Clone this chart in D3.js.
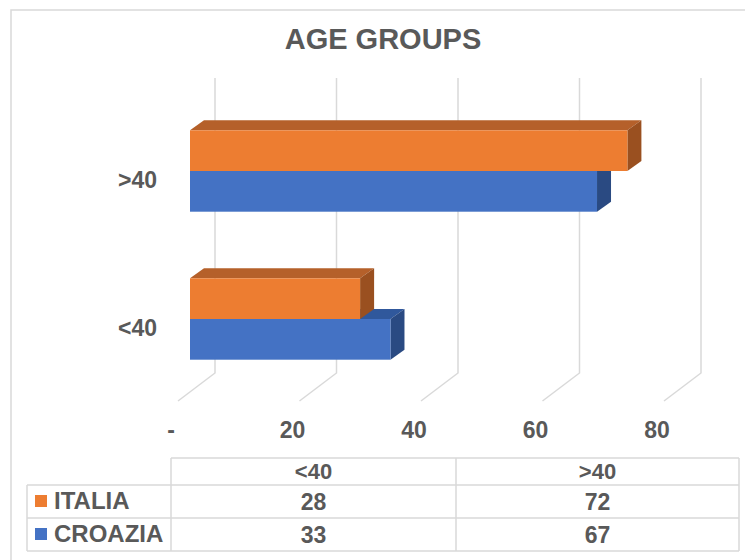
<!DOCTYPE html>
<html>
<head>
<meta charset="utf-8">
<script src="https://cdn.jsdelivr.net/npm/d3@7"></script>
<style>
  html, body { margin: 0; padding: 0; background: #fff; }
</style>
</head>
<body>
<div id="chart"></div>
<script>
const width = 745;
const height = 560;

const categories = ["<40", ">40"];
const seriesNames = ["ITALIA", "CROAZIA"];
const italia = [28, 72];
const croazia = [33, 67];
const tickValues = [0, 20, 40, 60, 80];

const colors = {
    ITALIA: { face: "#ed7d31", top: "#b5602a", side: "#9a5020" },
    CROAZIA: { face: "#4472c4", top: "#30589c", side: "#2a4a82" }
};
const textColor = "#595959";
const gridColor = "#d9d9d9";
const font = "'Liberation Sans', Arial, sans-serif";

const series = seriesNames.map((name, i) => ({
    name: name,
    values: i === 0 ? italia : croazia
}));

const svg = d3.select("#chart")
    .append("svg")
    .attr("width", width)
    .attr("height", height);

// chart border
svg.append("rect")
    .attr("x", 11).attr("y", 10)
    .attr("width", 760).attr("height", 600)
    .attr("fill", "none")
    .attr("stroke", gridColor)
    .attr("stroke-width", 1.5);

// title
svg.append("text")
    .attr("x", 383).attr("y", 49)
    .attr("text-anchor", "middle")
    .attr("font-family", font)
    .attr("font-size", "29px")
    .attr("font-weight", "bold")
    .attr("fill", textColor)
    .text("AGE GROUPS");

// scales
const x = d3.scaleLinear().domain([0, 80]).range([0, 486]);
const y = d3.scaleBand()
    .domain(categories.slice().reverse())
    .range([97, 393])
    .paddingInner(0.45)
    .paddingOuter(0.225);
const ySub = d3.scaleBand().domain(seriesNames).range([0, y.bandwidth()]);

// 3d geometry
const floorFrontX = 178, floorFrontY = 401;
const floorBackX = 215, floorBackY = 373;
const wallTop = 78;
const barX0 = 190;
const depth = { dx: 14, dy: -10 };

// back wall gridlines + floor diagonals
const grid = svg.append("g");
tickValues.forEach(v => {
    grid.append("path")
        .attr("d", `M${floorBackX + x(v)},${wallTop}L${floorBackX + x(v)},${floorBackY}L${floorFrontX + x(v)},${floorFrontY}`)
        .attr("fill", "none")
        .attr("stroke", gridColor)
        .attr("stroke-width", 1.5);
});

// x tick labels
svg.append("g").selectAll("text")
    .data(tickValues)
    .enter().append("text")
    .attr("x", d => 171 + x(d))
    .attr("y", 438)
    .attr("text-anchor", "middle")
    .attr("font-family", font)
    .attr("font-size", "23px")
    .attr("font-weight", "bold")
    .attr("fill", textColor)
    .text(d => d === 0 ? "-" : d);

// category labels
svg.append("g").selectAll("text")
    .data(categories)
    .enter().append("text")
    .attr("x", 157)
    .attr("y", d => y(d) + y.bandwidth() / 2 + 17)
    .attr("text-anchor", "end")
    .attr("font-family", font)
    .attr("font-size", "23px")
    .attr("font-weight", "bold")
    .attr("fill", textColor)
    .text(d => d);

// bars: draw lower series first so the upper one sits in front
const bars = svg.append("g");
const drawOrder = series.slice().reverse();
categories.forEach((cat, ci) => {
    drawOrder.forEach(s => {
        const v = s.values[ci];
        const x0 = barX0, x1 = barX0 + x(v);
        const y0 = y(cat) + ySub(s.name);
        const h = ySub.bandwidth();
        const c = colors[s.name];
        const g = bars.append("g");
        g.append("path")
            .attr("d", `M${x0},${y0}L${x0 + depth.dx},${y0 + depth.dy}L${x1 + depth.dx},${y0 + depth.dy}L${x1},${y0}Z`)
            .attr("fill", c.top);
        g.append("path")
            .attr("d", `M${x1},${y0}L${x1 + depth.dx},${y0 + depth.dy}L${x1 + depth.dx},${y0 + h + depth.dy}L${x1},${y0 + h}Z`)
            .attr("fill", c.side);
        g.append("rect")
            .attr("x", x0).attr("y", y0)
            .attr("width", x1 - x0).attr("height", h)
            .attr("fill", c.face);
    });
});

// data table
const colX = [27, 171, 456, 739];
const rowY = [458, 485, 518, 551];
const table = svg.append("g");
const line = (x1, y1, x2, y2) => table.append("line")
    .attr("x1", x1).attr("y1", y1).attr("x2", x2).attr("y2", y2)
    .attr("stroke", gridColor).attr("stroke-width", 1.5);

line(colX[1], rowY[0], colX[3], rowY[0]);
line(colX[0], rowY[1], colX[3], rowY[1]);
line(colX[0], rowY[2], colX[3], rowY[2]);
line(colX[0], rowY[3], colX[3], rowY[3]);
line(colX[0], rowY[1], colX[0], rowY[3]);
line(colX[1], rowY[0], colX[1], rowY[3]);
line(colX[2], rowY[0], colX[2], rowY[3]);
line(colX[3], rowY[0], colX[3], rowY[3]);

const cellText = (tx, ty, txt, size, anchor) => table.append("text")
    .attr("x", tx).attr("y", ty)
    .attr("text-anchor", anchor || "middle")
    .attr("font-family", font)
    .attr("font-size", size)
    .attr("font-weight", "bold")
    .attr("fill", textColor)
    .text(txt);

categories.forEach((cat, ci) => {
    const cx = (colX[ci + 1] + colX[ci + 2]) / 2;
    cellText(cx, 479, cat, "22px");
    series.forEach((s, si) => {
        cellText(cx, rowY[si + 1] + 25, s.values[ci], "23px");
    });
});

series.forEach((s, si) => {
    const ry = rowY[si + 1];
    table.append("rect")
        .attr("x", 35).attr("y", ry + 10)
        .attr("width", 12).attr("height", 12)
        .attr("fill", colors[s.name].face);
    cellText(54, ry + 24, s.name, "24px", "start");
});
</script>
</body>
</html>
